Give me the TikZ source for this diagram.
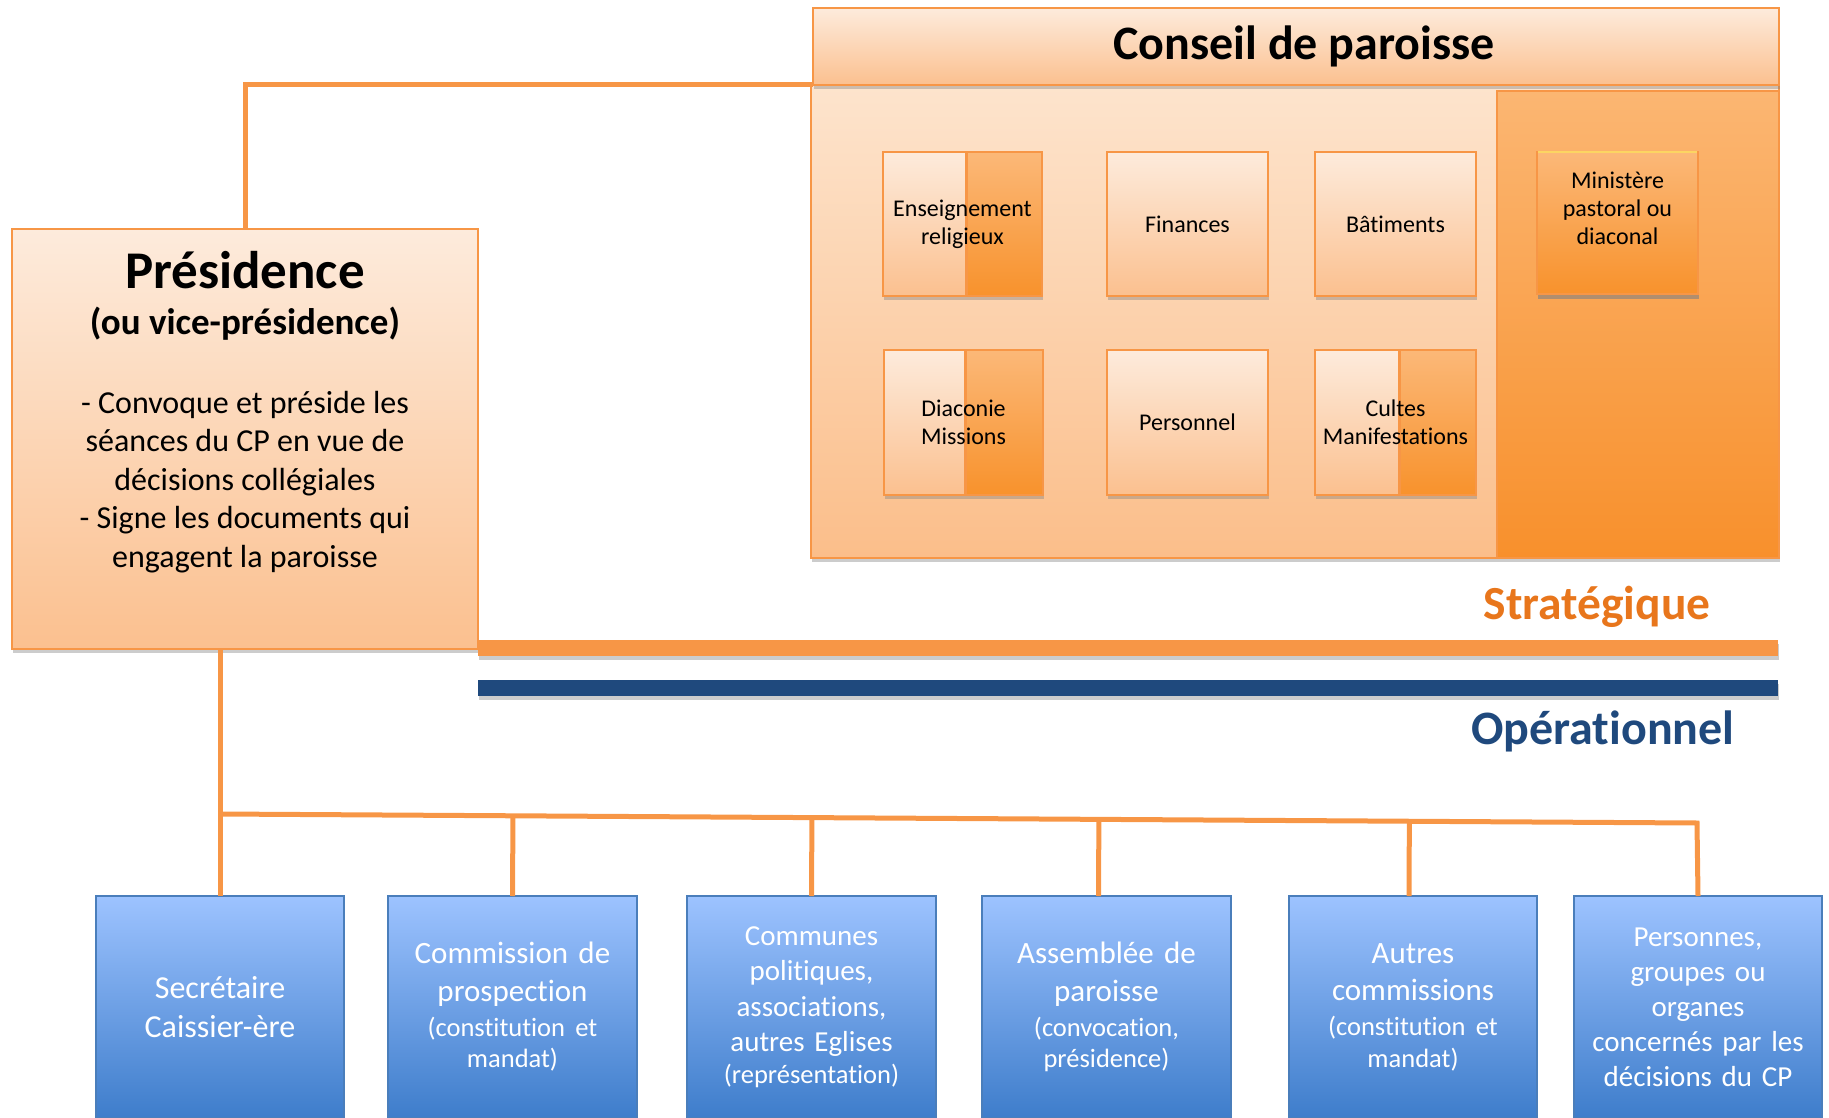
\documentclass[tikz,border=0pt]{standalone}
\usepackage{fontspec}
\setmainfont{Carlito}[Ligatures=NoCommon]
\usetikzlibrary{shadows,calc}
\definecolor{orln}{HTML}{F79646}
\definecolor{navy}{HTML}{1F497D}
\definecolor{ltT}{HTML}{FDEBDC}
\definecolor{ltB}{HTML}{FBC08F}
\definecolor{dkT}{HTML}{FBB878}
\definecolor{dkB}{HTML}{F8922C}
\definecolor{mainT}{HTML}{FDE4CD}
\definecolor{mainB}{HTML}{FBBE8A}
\definecolor{colT}{HTML}{FBB672}
\definecolor{colB}{HTML}{F8902C}
\definecolor{blT}{HTML}{9DC3FF}
\definecolor{blB}{HTML}{3E7DCB}
\definecolor{blBd}{HTML}{4A7EBB}
\definecolor{stratC}{HTML}{E8761C}
\begin{document}
\begin{tikzpicture}[x=1pt,y=-1pt,
  at box/.style n args={4}{minimum width={(#3-#1)*1pt},minimum height={(#4-#2)*1pt},
     at={({(#1+#3)/2},{(#2+#4)/2})},anchor=center,inner sep=0pt,outer sep=0pt},
  shad/.style={drop shadow={shadow xshift=1pt,shadow yshift=-4pt,opacity=0.4}},
  frame/.style={draw=orln,line width=1.6pt},
  lightbox/.style={frame,top color=ltT,bottom color=ltB,shad},
  darkbox/.style={frame,top color=dkT,bottom color=dkB,shad},
  lefthalf/.style={path picture={
     \shade[top color=ltT,bottom color=ltB] (path picture bounding box.north west) rectangle ([xshift=#1]path picture bounding box.south west);
     \draw[orln,line width=3pt] ([xshift=#1]path picture bounding box.north west) -- ([xshift=#1]path picture bounding box.south west);}},
  smalltxt/.style={font=\fontsize{24}{28}\selectfont,align=center,text=black},
  bluebox/.style={draw=blBd,line width=1.6pt,top color=blT,bottom color=blB,text=white,align=center,
     text width=240pt,font=\fontsize{31}{37.5}\selectfont},
  conn/.style={draw=orln,line width=5pt},
]
\useasboundingbox (0,0) rectangle (1829,1118);
\clip (0,0) rectangle (1829,1118);

% Conseil de paroisse
\node[frame,at box={811}{85}{1779}{558},top color=mainT,bottom color=mainB,shad] (cons) {};
\node[frame,at box={1497}{91}{1779}{558},top color=colT,bottom color=colB] (col) {};
\node[lightbox,at box={813}{8}{1779}{85},font=\bfseries\fontsize{48}{54}\selectfont] (hdr) {\raisebox{-4pt}{\hspace*{16pt}Conseil de paroisse}};

\node[darkbox,at box={883}{152}{1042}{296},lefthalf=83pt,smalltxt] (ens) {Enseignement\\religieux};
\node[lightbox,at box={1107}{152}{1268}{296},smalltxt] (fin) {Finances};
\node[lightbox,at box={1315}{152}{1476}{296},smalltxt] (bat) {Bâtiments};
\node[darkbox,at box={884}{350}{1043}{495},lefthalf=81pt,smalltxt] (dia) {Diaconie\\Missions};
\node[lightbox,at box={1107}{350}{1268}{495},smalltxt] (per) {Personnel};
\node[darkbox,at box={1315}{350}{1476}{495},lefthalf=84pt,smalltxt] (cul) {Cultes\\Manifestations};
\node[frame,at box={1537}{152}{1698}{294},top color=dkT,bottom color=dkB,
      drop shadow={shadow xshift=1pt,shadow yshift=-5pt,opacity=0.6}] (min) {};
\draw[draw=yellow!50!orange!60,line width=2.5pt] ([xshift=1pt]min.north west) -- ([xshift=-1pt]min.north east);
\node[smalltxt,anchor=north] (mintxt) at ([yshift=-16pt]min.north) {Ministère\\pastoral ou\\diaconal};

% Presidence
\node[lightbox,at box={12}{229}{478}{649}] (pres) {};
\node[font=\bfseries\fontsize{53}{60}\selectfont] (prest) at (245,270) {Présidence};
\node[font=\bfseries\fontsize{37}{44}\selectfont] (pres2) at (245,324) {(ou vice-présidence)};
\node[font=\fontsize{32}{38.5}\selectfont,align=center] (presb) at (245,482)
  {- Convoque et préside les\\séances du CP en vue de\\décisions collégiales\\- Signe les documents qui\\engagent la paroisse};

% connector pres -> conseil
\draw[conn] (pres.north) |- (hdr.south west);

% bars
\node[at box={478}{640}{1778}{656},fill=orln,shad] (sbar) {};
\node[at box={478}{680}{1778}{696},fill=navy,shad] (obar) {};
\node[anchor=east,text=stratC,font=\bfseries\fontsize{47.5}{52}\selectfont] (strat) at (1714,607) {Stratégique};
\node[anchor=east,text=navy,font=\bfseries\fontsize{48}{52}\selectfont] (oper) at (1738,731) {Opérationnel};

% bottom boxes
\newcommand{\smp}{\fontsize{26.5}{31}\selectfont}
\node[bluebox,at box={96}{896}{344}{1118},font=\fontsize{32}{38.5}\selectfont] (sec) {Secrétaire\\Caissier-ère};
\node[bluebox,at box={388}{896}{637}{1118}] (com) {Commission de\\prospection\\[-2.5pt]{\smp(constitution et}\\[-6pt]{\smp mandat)}};
\node[bluebox,at box={687}{896}{936}{1118},font=\fontsize{29}{35.5}\selectfont] (cmn) {Communes\\politiques,\\associations,\\autres Eglises\\[-4pt]{\smp(représentation)}};
\node[bluebox,at box={982}{896}{1231}{1118}] (ass) {Assemblée de\\paroisse\\[-2.5pt]{\smp(convocation,}\\[-6pt]{\smp présidence)}};
\node[bluebox,at box={1289}{896}{1537}{1118}] (aut) {Autres\\commissions\\[-2.5pt]{\smp(constitution et}\\[-6pt]{\smp mandat)}};
\node[bluebox,at box={1574}{896}{1822}{1118},font=\fontsize{29}{35}\selectfont] (prs) {Personnes,\\groupes ou\\organes\\concernés par les\\décisions du CP};

% bus
\coordinate (busL) at (219,814);
\coordinate (busR) at (1697,823);
\draw[conn] (pres.south -| sec.north) -- (sec.north);
\draw[conn] (busL) -- (busR) -- (prs.north);
\foreach \b/\dx in {com/0,cmn/0,ass/-8,aut/-4}{
  \draw[conn] ([xshift=\dx pt]\b.north) -- ($(busL)!([xshift=\dx pt]\b.north)!(busR)$);
}
\end{tikzpicture}
\end{document}
